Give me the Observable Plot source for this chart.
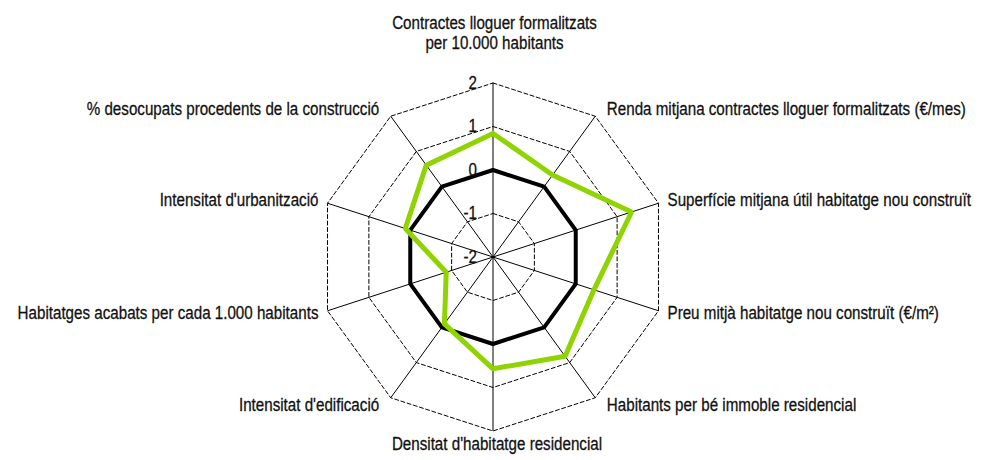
<!DOCTYPE html>
<html><head><meta charset="utf-8">
<script src="https://cdn.jsdelivr.net/npm/d3@7"></script>
<script src="https://cdn.jsdelivr.net/npm/@observablehq/plot@0.6"></script>
<style>body{margin:0;background:#fff}</style>
</head><body><div id="chart"></div>
<script>
const axes = [
  "Contractes lloguer formalitzats\nper 10.000 habitants",
  "Renda mitjana contractes lloguer formalitzats (€/mes)",
  "Superfície mitjana útil habitatge nou construït",
  "Preu mitjà habitatge nou construït (€/m²)",
  "Habitants per bé immoble residencial",
  "Densitat d'habitatge residencial",
  "Intensitat d'edificació",
  "Habitatges acabats per cada 1.000 habitants",
  "Intensitat d'urbanització",
  "% desocupats procedents de la construcció"
];
const referencia = [0, 0, 0, 0, 0, 0, 0, 0, 0, 0];
const municipi = [0.84, 0.33, 1.35, 0.44, 0.82, 0.57, -0.1, -0.87, 0.12, 0.61];
const tickValues = [-2, -1, 0, 1, 2];
const ringValues = [-1, 0, 1, 2];

const W = 985, H = 460, cx = 492.5, cy = 256.5, unit = 43.5;
const n = axes.length;
const vmin = -2, vmax = 2;
const ang = i => i * 2 * Math.PI / n;
const px = (v, i) => (v - vmin) * Math.sin(ang(i));
const py = (v, i) => (v - vmin) * Math.cos(ang(i));

const ringPts = ringValues.flatMap(v => d3.range(n + 1).map(i => ({ring: v, x: px(v, i % n), y: py(v, i % n)})));
const spokes = d3.range(n).map(i => ({x2: px(vmax, i), y2: py(vmax, i)}));
const series = (vals, name) => d3.range(n + 1).map(i => ({s: name, x: px(vals[i % n], i % n), y: py(vals[i % n], i % n)}));
const refPts = series(referencia, "ref");
const munPts = series(municipi, "mun");

const labels = axes.map((label, i) => {
  const s = Math.sin(ang(i)), c = Math.cos(ang(i));
  const side = Math.abs(s) < 1e-6 ? "middle" : (s > 0 ? "start" : "end");
  return {label, i, side,
    x: px(vmax, i) + (side === "middle" ? 0 : Math.sign(s) * (7.5 + 5 * Math.abs(c)) / unit),
    y: py(vmax, i) + (side === "middle" ? 0 : 9 * c / unit)};
});
const ticks = tickValues.map(v => ({v, x: 0, y: v - vmin}));

const font = "'Liberation Sans', Arial, sans-serif";
const fs = 18.5;
const ink = "#111";
const squeeze = 0.82;
const textStyle = {fill: ink, stroke: ink, strokeWidth: 0.3, paintOrder: "fill", fontSize: fs};

const chart = Plot.plot({
  width: W, height: H,
  margin: 0,
  x: {domain: [-cx / unit, (W - cx) / unit], axis: null},
  y: {domain: [-(H - cy) / unit, cy / unit], axis: null},
  style: {fontFamily: font, fontSize: fs + "px", background: "#fff", overflow: "visible"},
  marks: [
    Plot.line(ringPts, {x: "x", y: "y", z: "ring", stroke: "#000", strokeWidth: 1, strokeDasharray: "4,2.5"}),
    Plot.link(spokes, {x1: 0, y1: 0, x2: "x2", y2: "y2", stroke: "#000", strokeWidth: 1}),
    Plot.line(refPts, {x: "x", y: "y", stroke: "#000", strokeWidth: 4, strokeLinejoin: "miter"}),
    Plot.line(munPts, {x: "x", y: "y", stroke: "#8fd400", strokeWidth: 5, strokeLinejoin: "miter"}),
    Plot.text(ticks, {x: "x", y: "y", text: d => String(d.v), textAnchor: "end", dx: -16, dy: 0, ...textStyle}),
    Plot.text(labels.filter(d => d.side === "start"), {x: "x", y: "y", text: "label", textAnchor: "start", lineAnchor: "middle", ...textStyle}),
    Plot.text(labels.filter(d => d.side === "end"), {x: "x", y: "y", text: "label", textAnchor: "end", lineAnchor: "middle", ...textStyle}),
    Plot.text(labels.filter(d => d.i === 0), {x: "x", y: "y", text: "label", textAnchor: "middle", lineAnchor: "bottom", lineHeight: 1.1, dx: 1.5, dy: -34, ...textStyle}),
    Plot.text(labels.filter(d => d.side === "middle" && d.i !== 0), {x: "x", y: "y", text: "label", textAnchor: "middle", lineAnchor: "top", dx: 4, dy: 6, ...textStyle})
  ]
});
// imitate the condensed typeface of the original by narrowing glyphs around each anchor
d3.select(chart).selectAll("text").each(function() {
  const t = this.getAttribute("transform") || "";
  this.setAttribute("transform", t + ` scale(${squeeze},1)`);
});
document.getElementById("chart").appendChild(chart);
</script>
</body></html>
